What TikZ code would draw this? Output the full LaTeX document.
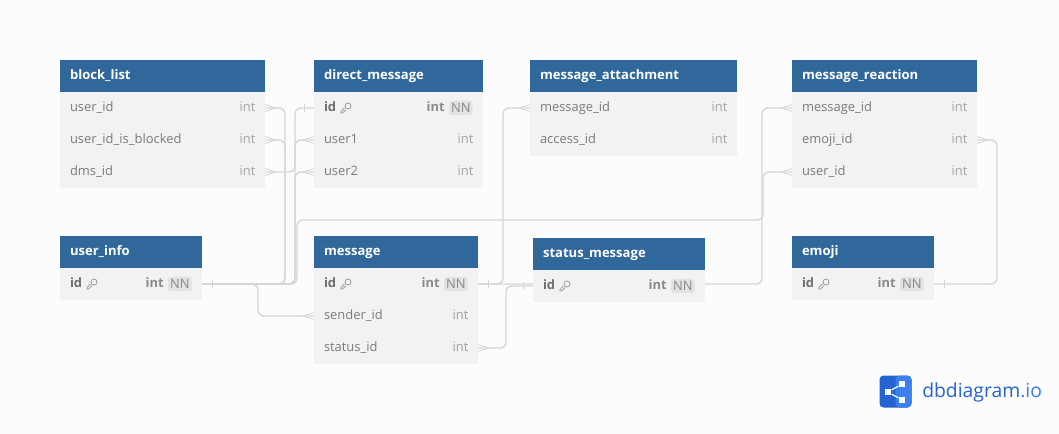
\documentclass[tikz,border=0pt]{standalone}
\usepackage{fontspec}
\setmainfont{Open Sans}
\definecolor{pagebg}{HTML}{FCFCFC}
\definecolor{headblue}{HTML}{31689B}
\definecolor{rowgray}{HTML}{F2F2F2}
\definecolor{namegray}{HTML}{7B7B7B}
\definecolor{typegray}{HTML}{A3A3A3}
\definecolor{keygray}{HTML}{6F6F6F}
\definecolor{badgegray}{HTML}{E2E2E2}
\definecolor{linegray}{HTML}{D6D6D6}
\definecolor{logodark}{HTML}{2563D3}
\definecolor{logolight}{HTML}{3A80EE}
\usetikzlibrary{positioning, backgrounds}
\tikzset{
	tablehead/.style={rectangle, fill=headblue, text=white, anchor=north west, outer sep=0pt, inner xsep=7.5pt, inner ysep=0pt, minimum height=24pt, text height=7.5pt, text depth=2pt, font=\fontsize{9.8}{12}\selectfont\bfseries},
	tablerow/.style={rectangle, fill=rowgray, text=namegray, outer sep=0pt, inner xsep=7.5pt, inner ysep=0pt, minimum height=24pt, text height=7.5pt, text depth=2pt, font=\fontsize{9.7}{12}\selectfont},
	keyrow/.style={tablerow, text=keygray, font=\fontsize{9.7}{12}\selectfont\bfseries},
	tablew/.style={text width=#1*0.75pt-15pt},
	typetext/.style={inner sep=0pt, text=typegray, text height=7.5pt, text depth=2pt, font=\fontsize{9.7}{12}\selectfont},
	keytype/.style={typetext, text=typegray!85!black, font=\fontsize{9.7}{12}\selectfont\bfseries},
	nnbadge/.style={rectangle, rounded corners=1.5pt, fill=badgegray, text=namegray!90, inner xsep=1.5pt, inner ysep=1.5pt, text height=7.5pt, text depth=0pt, font=\fontsize{9.7}{12}\selectfont},
	rel/.style={draw=linegray, line width=1.1pt, rounded corners=4.5pt},
	relmark/.style={draw=linegray, line width=0.6pt},
	crowright/.pic={\draw[relmark] (0,-3.5) -- (11,0) -- (0,3.5);},
	crowleft/.pic={\draw[relmark] (0,-3.5) -- (-11,0) -- (0,3.5);},
	tickmark/.pic={\draw[relmark] (0,-4) -- (0,4);},
	keyicon/.pic={\draw[keygray!80, line width=0.5pt] (-1.6,0) -- (-5,3.5) -- (-5,5) -- (-3.5,5) -- (0,1.6) (2,-2) circle[radius=3];},
	logosquare/.style={rectangle, fill=white, minimum size=5pt, inner sep=0pt},
}
\begin{document}
\begin{tikzpicture}[x=0.75pt, y=-0.75pt]
	\useasboundingbox (0,0) rectangle (1059,434);
	% first column
	\node[tablehead, tablew=205] (block) at (60,60) {block\_list};
	\node[tablerow, tablew=205, below=0pt of block] (blu) {user\_id};
	\node[tablerow, tablew=205, below=0pt of blu] (blb) {user\_id\_is\_blocked};
	\node[tablerow, tablew=205, below=0pt of blb] (bld) {dms\_id};
	\node[tablehead, tablew=142] (info) at (60,236) {user\_info};
	\node[keyrow, tablew=142, below=0pt of info] (uii) {id};
	% second column
	\node[tablehead, tablew=169] (dm) at (314,60) {direct\_message};
	\node[keyrow, tablew=169, below=0pt of dm] (dmi) {id};
	\node[tablerow, tablew=169, below=0pt of dmi] (dma) {user1};
	\node[tablerow, tablew=169, below=0pt of dma] (dmb) {user2};
	\node[tablehead, tablew=164] (msg) at (314,236) {message};
	\node[keyrow, tablew=164, below=0pt of msg] (msi) {id};
	\node[tablerow, tablew=164, below=0pt of msi] (mse) {sender\_id};
	\node[tablerow, tablew=164, below=0pt of mse] (mst) {status\_id};
	% third column
	\node[tablehead, tablew=207] (attach) at (530,60) {message\_attachment};
	\node[tablerow, tablew=207, below=0pt of attach] (atm) {message\_id};
	\node[tablerow, tablew=207, below=0pt of atm] (ata) {access\_id};
	\node[tablehead, tablew=172] (status) at (533,238) {status\_message};
	\node[keyrow, tablew=172, below=0pt of status] (sti) {id};
	% fourth column
	\node[tablehead, tablew=185] (react) at (792,60) {message\_reaction};
	\node[tablerow, tablew=185, below=0pt of react] (rem) {message\_id};
	\node[tablerow, tablew=185, below=0pt of rem] (ree) {emoji\_id};
	\node[tablerow, tablew=185, below=0pt of ree] (reu) {user\_id};
	\node[tablehead, tablew=142] (emoji) at (792,236) {emoji};
	\node[keyrow, tablew=142, below=0pt of emoji] (emi) {id};
	% column types
	\foreach \r in {blu, blb, bld, dma, dmb, mse, mst, atm, ata, rem, ree, reu}
		\node[typetext, left=7pt of \r.east] (\r type) {int};
	\foreach \r in {uii, dmi, msi, sti, emi} {
		\node[nnbadge, left=7.5pt of \r.east] (\r nn) {NN};
		\node[keytype, left=3pt of \r nn] (\r type) {int};
		\pic at ([xshift=24pt]\r.west) {keyicon};
	}
	% connectors, under the tables
	\begin{pgfonlayer}{background}
		\fill[pagebg] (0,0) rectangle (1059,434);
		\draw[rel] (uii.east) -- ++(83,0) |- (blu.east);
		\draw[rel] (uii.east) -- ++(83,0) |- (blb.east);
		\draw[rel] (uii.east) -- ++(93,0) |- (dma.west);
		\draw[rel] (uii.east) -- ++(93,0) |- (dmb.west);
		\draw[rel] (uii.east) -- ++(95,0) -- ++(0,-64) -- ++(466,0) |- (reu.west);
		\draw[rel] (uii.east) -- ++(56,0) |- (mse.west);
		\draw[rel] (dmi.west) -- ++(-19,0) |- (bld.east);
		\draw[rel] (msi.east) -- ++(25,0) |- (atm.west);
		\draw[rel] (msi.east) -- ++(284,0) |- (rem.west);
		\draw[rel] (mst.east) -- ++(28,0) |- (sti.west);
		\draw[rel] (ree.east) -- ++(20,0) |- (emi.east);
	\end{pgfonlayer}
	% line ends
	\foreach \r in {blu, blb, bld, mst, ree}
		\pic at (\r.east) {crowright};
	\foreach \r in {dma, dmb, mse, atm, rem, reu}
		\pic at (\r.west) {crowleft};
	\foreach \r in {uii, msi, emi}
		\pic at ([xshift=7.5pt]\r.east) {tickmark};
	\foreach \r in {dmi, sti}
		\pic at ([xshift=-7.5pt]\r.west) {tickmark};
	% logo
	\node[rectangle, rounded corners=3pt, minimum size=24pt, inner sep=0pt, fill=logodark, path picture={\fill[logolight] (path picture bounding box.north) rectangle (path picture bounding box.south east);}] (logo) at (895.5,391.5) {};
	\node[logosquare] (logoa) at (888,392) {};
	\node[logosquare] (logob) at (902,384) {};
	\node[logosquare] (logoc) at (902,400) {};
	\draw[white, line width=0.9pt] (logoa) -- (logob);
	\draw[white, line width=0.9pt] (logoa) -- (logoc);
	\node[anchor=west, inner sep=0pt, text=logodark, font=\fontsize{14.5}{16}\selectfont] (brand) at (922,392) {dbdiagram\textcolor{logolight}{.io}};
\end{tikzpicture}
\end{document}
